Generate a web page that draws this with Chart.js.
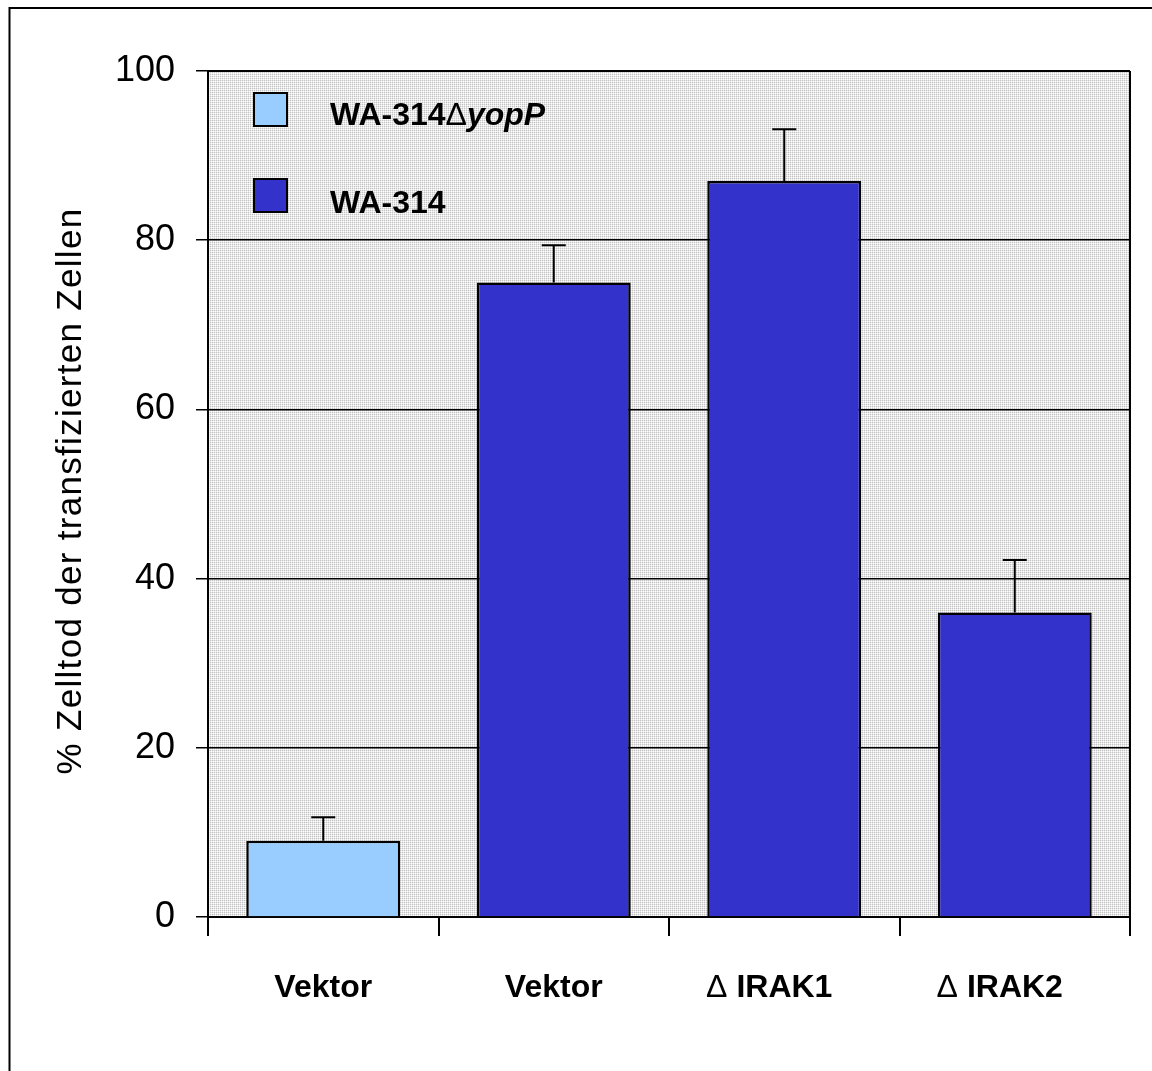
<!DOCTYPE html>
<html>
<head>
<meta charset="utf-8">
<script src="https://cdn.jsdelivr.net/npm/chart.js@4"></script>
<style>
  html, body { margin: 0; padding: 0; background: #fff; }
  #wrap { width: 1152px; height: 1071px; }
</style>
</head>
<body>
<div id="wrap"><canvas id="c" width="1152" height="1071"></canvas></div>
<script>
// Categories and values
const categories = ['Vektor', 'Vektor', 'Δ IRAK1', 'Δ IRAK2'];
const yopPValues = [9, null, null, null];
const yopPErrors = [2.8, null, null, null];
const wtValues = [null, 75, 87, 36];
const wtErrors = [null, 4.4, 6.1, 6.2];
const yTicks = [0, 20, 40, 60, 80, 100];
const seriesNames = ['WA-314ΔyopP', 'WA-314'];
const yTitle = '% Zelltod der transfizierten Zellen';

const FONT = "'Liberation Sans', Arial, sans-serif";

// dotted grey fill of the plot area
function makeDotPattern(ctx) {
  const t = document.createElement('canvas');
  t.width = 2; t.height = 2;
  const g = t.getContext('2d');
  g.fillStyle = '#ffffff'; g.fillRect(0, 0, 2, 2);
  g.fillStyle = '#c4c4c4'; g.fillRect(0, 0, 1, 1);
  g.fillStyle = '#e8e8e8'; g.fillRect(1, 0, 1, 1); g.fillRect(0, 1, 1, 1);
  return ctx.createPattern(t, 'repeat');
}

const plotBackground = {
  id: 'plotBackground',
  beforeDraw(chart) {
    const { ctx, chartArea: a } = chart;
    ctx.save();
    ctx.fillStyle = makeDotPattern(ctx);
    ctx.fillRect(a.left, a.top, a.right - a.left, a.bottom - a.top);
    ctx.restore();
  }
};

// upward error bars with a cap
const errorBars = {
  id: 'errorBars',
  afterDatasetsDraw(chart) {
    const { ctx } = chart;
    const y = chart.scales.y;
    ctx.save();
    ctx.strokeStyle = '#000';
    ctx.lineWidth = 2;
    chart.data.datasets.forEach((ds, di) => {
      const meta = chart.getDatasetMeta(di);
      ds.values.forEach((v, i) => {
        const e = ds.errors[i];
        if (v == null || e == null) return;
        const x = meta.data[i].x;
        const y0 = y.getPixelForValue(v);
        const y1 = y.getPixelForValue(v + e);
        ctx.beginPath();
        ctx.moveTo(x, y0);
        ctx.lineTo(x, y1);
        ctx.moveTo(x - 12, y1);
        ctx.lineTo(x + 12, y1);
        ctx.stroke();
      });
    });
    ctx.restore();
  }
};

// draws a run of differently styled pieces from left to right
function drawRuns(ctx, runs, x, y, size) {
  runs.forEach(([txt, style]) => {
    ctx.font = style + ' ' + size + 'px ' + FONT;
    ctx.fillText(txt, x, y);
    x += ctx.measureText(txt).width;
  });
}
function runsWidth(ctx, runs, size) {
  let w = 0;
  runs.forEach(([txt, style]) => {
    ctx.font = style + ' ' + size + 'px ' + FONT;
    w += ctx.measureText(txt).width;
  });
  return w;
}

// legend drawn inside the plot, with mixed font styles
const legendParts = [
  [['WA-314', 'bold'], ['Δ', 'normal'], ['yopP', 'italic bold']],
  [['WA-314', 'bold']]
];
const insideLegend = {
  id: 'insideLegend',
  afterDatasetsDraw(chart) {
    const { ctx } = chart;
    const rows = [{ box: [254, 93], base: 125 }, { box: [254, 179], base: 213 }];
    ctx.save();
    chart.data.datasets.forEach((ds, i) => {
      const r = rows[i];
      ctx.fillStyle = ds.backgroundColor;
      ctx.fillRect(r.box[0], r.box[1], 33, 33);
      ctx.strokeStyle = '#000';
      ctx.lineWidth = 2;
      ctx.strokeRect(r.box[0], r.box[1], 33, 33);
      ctx.fillStyle = '#000';
      ctx.textBaseline = 'alphabetic';
      ctx.textAlign = 'left';
      drawRuns(ctx, legendParts[i], 330, r.base, 32);
    });
    ctx.restore();
  }
};

// category labels under the x axis: the delta sign in regular weight
const categoryLabels = {
  id: 'categoryLabels',
  afterDraw(chart) {
    const { ctx } = chart;
    const xs = chart.scales.x;
    ctx.save();
    ctx.fillStyle = '#000';
    ctx.textBaseline = 'alphabetic';
    ctx.textAlign = 'left';
    categories.forEach((label, i) => {
      const runs = label.startsWith('Δ')
        ? [['Δ', 'normal'], [label.slice(1), 'bold']]
        : [[label, 'bold']];
      const trail = label.startsWith('Δ') ? 30 : 0;
      const w = runsWidth(ctx, runs, 32);
      const cx = xs.getPixelForTick(i);
      drawRuns(ctx, runs, cx - (w + trail) / 2, 997, 32);
    });
    ctx.restore();
  }
};

// y axis title, slightly letter-spaced
const yAxisTitle = {
  id: 'yAxisTitle',
  afterDraw(chart) {
    const { ctx, chartArea: a } = chart;
    ctx.save();
    ctx.translate(71, (a.top + a.bottom) / 2 - 3);
    ctx.rotate(-Math.PI / 2);
    ctx.font = '35px ' + FONT;
    if ('letterSpacing' in ctx) ctx.letterSpacing = '1.3px';
    ctx.fillStyle = '#000';
    ctx.textAlign = 'center';
    ctx.textBaseline = 'middle';
    ctx.fillText(yTitle, 0, 0);
    ctx.restore();
  }
};

// right edge of the plot and the page frame
const frames = {
  id: 'frames',
  afterDraw(chart) {
    const { ctx, chartArea: a } = chart;
    ctx.save();
    ctx.strokeStyle = '#000';
    ctx.lineWidth = 2;
    ctx.beginPath();
    ctx.moveTo(a.right, a.top);
    ctx.lineTo(a.right, a.bottom);
    ctx.moveTo(a.left, a.top);
    ctx.lineTo(a.right, a.top);
    ctx.stroke();
    ctx.beginPath();
    ctx.moveTo(9.5, 1071);
    ctx.lineTo(9.5, 8);
    ctx.lineTo(1152, 8);
    ctx.stroke();
    ctx.restore();
  }
};

new Chart(document.getElementById('c'), {
  type: 'bar',
  data: {
    labels: categories,
    datasets: [
      {
        label: seriesNames[0],
        data: yopPValues,
        values: yopPValues,
        errors: yopPErrors,
        backgroundColor: '#99CCFF',
        borderColor: '#000',
        borderWidth: 2.5
      },
      {
        label: seriesNames[1],
        data: wtValues,
        values: wtValues,
        errors: wtErrors,
        backgroundColor: '#3333CC',
        borderColor: '#000',
        borderWidth: 2.5
      }
    ]
  },
  options: {
    responsive: false,
    animation: false,
    grouped: false,
    categoryPercentage: 1,
    barPercentage: 0.668,
    layout: { padding: { top: 71, right: 22, left: 0, bottom: 0 } },
    plugins: {
      legend: { display: false },
      tooltip: { enabled: false }
    },
    scales: {
      x: {
        afterFit(s) { s.height = 154; },
        grid: {
          drawOnChartArea: false,
          drawTicks: true,
          tickLength: 19,
          color: '#000',
          lineWidth: 2
        },
        border: { display: true, color: '#000', width: 2 },
        ticks: { display: false }
      },
      y: {
        min: 0,
        max: 100,
        afterFit(s) { s.width = 208; },
        afterBuildTicks(s) { s.ticks = yTicks.map(v => ({ value: v })); },
        grid: {
          color: '#000',
          lineWidth: 1.5,
          tickLength: 12,
          tickColor: '#000',
          tickWidth: 1.5
        },
        border: { display: true, color: '#000', width: 2 },
        ticks: {
          color: '#000',
          padding: 21,
          font: { family: FONT, size: 36 }
        }
      }
    }
  },
  plugins: [plotBackground, errorBars, insideLegend, categoryLabels, yAxisTitle, frames]
});
</script>
</body>
</html>
